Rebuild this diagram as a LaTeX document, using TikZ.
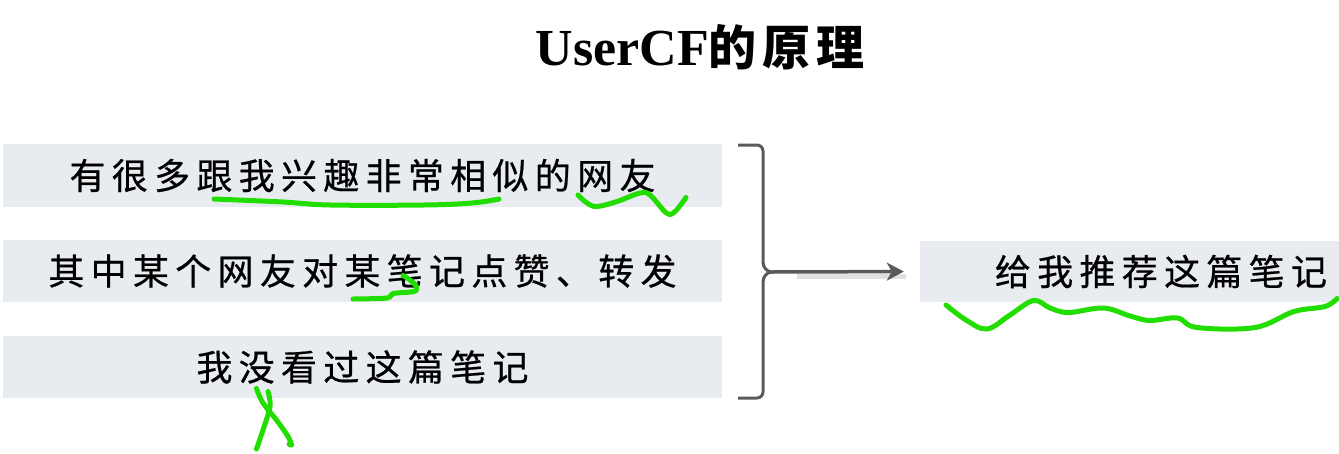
\documentclass[tikz,border=0pt]{standalone}
\usepackage{fontspec}
\usetikzlibrary{arrows.meta}
\setmainfont{Liberation Serif}
\newfontfamily\cjk[LetterSpace=17.5,FakeBold=0.6]{Noto Sans CJK SC}
\newfontfamily\cjkt[LetterSpace=12]{Noto Sans CJK SC}
\definecolor{boxfill}{RGB}{232,235,240}
\definecolor{braceg}{RGB}{90,90,90}
\definecolor{hand}{RGB}{34,221,0}
\tikzset{
  box/.style={fill=boxfill, draw=none, inner sep=0pt, minimum height=62pt,
    font=\cjk\fontsize{36}{42}\selectfont},
  handline/.style={draw=hand, line width=5pt, line cap=round, line join=round},
  bracel/.style={draw=braceg, line width=3pt, line cap=butt},
  arrowl/.style={draw=braceg, line width=3.5pt, -{Stealth[length=17pt,width=18pt,inset=5pt]}},
  shadowl/.style={draw=black!12, line width=5pt},
}
\begin{document}
\begin{tikzpicture}[x=1pt,y=-1pt]
\useasboundingbox (0,0) rectangle (1339,453);
% title
\node[anchor=base, inner sep=0pt] (title) at (700,65)
  {\fontsize{52}{60}\selectfont\bfseries UserCF{\cjkt\fontsize{48}{56}\selectfont\bfseries 的原理}};
% left boxes
\node[box, minimum width=719pt, minimum height=63pt] (b1) at (362.5,175.5) {有很多跟我兴趣非常相似的网友};
\node[box, minimum width=719pt] (b2) at (362.5,271) {其中某个网友对某笔记点赞、转发};
\node[box, minimum width=719pt] (b3) at (362.5,367) {我没看过这篇笔记};
% right box
\node[box, minimum width=419pt, minimum height=61pt, text width=395pt, align=right, inner xsep=12pt] (r) at (1129.5,271.5) {给我推荐这篇笔记};
% brace
\coordinate (tip) at (772,272);
\draw[bracel] (738,145) -- (757,145) to[out=0,in=90] (763,151) -- (763,262) to[out=-90,in=180] (tip);
\draw[bracel] (738,398) -- (757,398) to[out=0,in=-90] (763,392) -- (763,282) to[out=90,in=180] (tip);
% arrow shadow and arrow
\draw[shadowl] (797,276) -- (906,276);
\draw[arrowl, shorten >=16pt] (tip) -- (r.west);
% hand-drawn marks
\draw[handline] plot[smooth, tension=0.6] coordinates {(214,199) (283,202) (330,205) (424,205) (472,203) (499,199)};
\draw[handline] plot[smooth, tension=0.6] coordinates {(578,195) (587,203) (597,206.5) (617,201.5) (640,193) (650,195) (666.5,213) (675,211.5) (686,197.5)};
\draw[handline] plot[smooth, tension=0.5] coordinates {(353,299) (387,298) (393,293.5) (414,291.5) (416.5,286.5) (410,280) (403,275.5)};
\draw[handline] plot[smooth, tension=0.6] coordinates {(256.5,388.5) (263,403) (276.5,420) (288,436.5) (291.5,445) (289,444)};
\draw[handline] plot[smooth, tension=0.6] coordinates {(268,391.5) (270,406.5) (263,430) (256.5,449)};
\draw[handline] plot[smooth, tension=0.6] coordinates {(946,305) (966,320) (987,329) (1010,315) (1033.5,300.5) (1050,308) (1068.5,312.5) (1103.5,308) (1130,316) (1150,320.5) (1177.5,318) (1197,327.5) (1255,327.5) (1294,311.5) (1325,306.5) (1337,298.5)};
\end{tikzpicture}
\end{document}
